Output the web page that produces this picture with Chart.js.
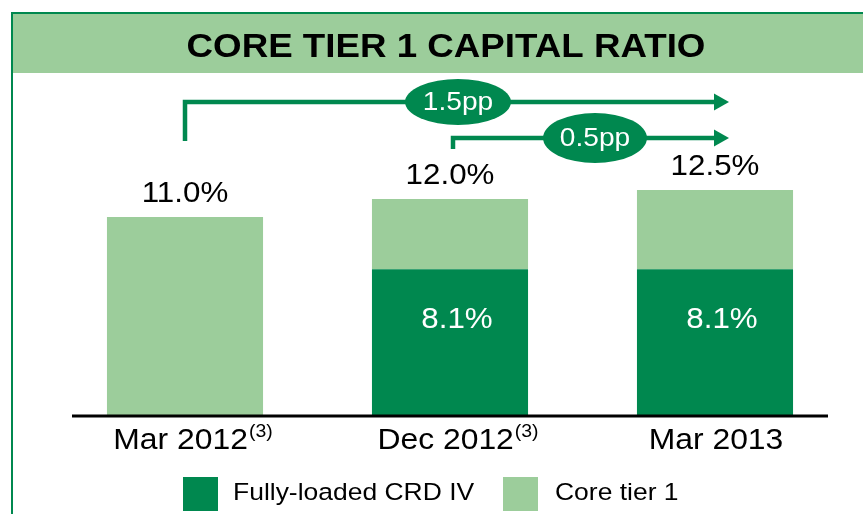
<!DOCTYPE html>
<html>
<head>
<meta charset="utf-8">
<script src="https://cdn.jsdelivr.net/npm/chart.js@4.4.1/dist/chart.umd.min.js"></script>
<style>
  html, body { margin: 0; padding: 0; background: #fff; }
  canvas { display: block; }
</style>
</head>
<body>
<canvas id="grafica" width="863" height="514"></canvas>
<script>
// datos
const categorias = ['Mar 2012', 'Dec 2012', 'Mar 2013'];
const notas = ['(3)', '(3)', ''];
const fullyLoaded = [null, 8.1, 8.1];
const coreTier1 = [11.0, 12.0, 12.5];
const etiquetasSeries = ['Fully-loaded CRD IV', 'Core tier 1'];
const cambios = [
    { texto: '1.5pp', desde: 0, hasta: 2 },
    { texto: '0.5pp', desde: 1, hasta: 2 }
];
const titulo = 'CORE TIER 1 CAPITAL RATIO';

const verdeOscuro = 'rgb(0, 136, 79)';
const verdeClaro = 'rgb(156, 205, 155)';
const fuente = "'Liberation Sans', Arial, sans-serif";
const estirar = 1.08; // el texto del original sale algo mas ancho

// parte clara = total menos la parte fully-loaded
const restoCore = coreTier1.map((v, i) => +(v - (fullyLoaded[i] || 0)).toFixed(1));

function escribir(ctx, str, x, y, align) {
    ctx.save();
    ctx.translate(x, y);
    ctx.scale(estirar, 1);
    ctx.textAlign = align;
    ctx.fillText(str, 0, 0);
    ctx.restore();
}

const fondo = {
    id: 'fondo',
    beforeDraw(chart) {
        const ctx = chart.ctx;
        ctx.save();
        ctx.fillStyle = '#fff';
        ctx.fillRect(0, 0, chart.width, chart.height);
        // cabecera
        ctx.fillStyle = verdeClaro;
        ctx.fillRect(12, 13, chart.width - 12, 60);
        ctx.fillStyle = verdeOscuro;
        ctx.fillRect(11, 12, chart.width - 11, 2);
        ctx.fillRect(11, 12, 2, chart.height - 12);
        ctx.fillStyle = '#000';
        ctx.font = 'bold 34px ' + fuente;
        ctx.textBaseline = 'alphabetic';
        escribir(ctx, titulo, 446, 57, 'center');
        ctx.restore();
    }
};

const extras = {
    id: 'extras',
    afterDraw(chart) {
        const ctx = chart.ctx;
        const x = chart.scales.x;
        const area = chart.chartArea;
        const metaClaro = chart.getDatasetMeta(1);
        const metaOscuro = chart.getDatasetMeta(0);
        ctx.save();

        // linea del eje
        ctx.fillStyle = '#000';
        ctx.fillRect(72, area.bottom - 0.5, 756, 3);

        // etiquetas del eje con superindice
        ctx.textBaseline = 'alphabetic';
        categorias.forEach((c, i) => {
            ctx.font = '29.5px ' + fuente;
            const w1 = ctx.measureText(c).width * estirar;
            ctx.font = '18px ' + fuente;
            const w2 = notas[i] ? ctx.measureText(notas[i]).width * estirar + 1 : 0;
            const x0 = x.getPixelForValue(i) - (w1 + w2) / 2 + (notas[i] ? 8 : 1);
            ctx.fillStyle = '#000';
            ctx.font = '29.5px ' + fuente;
            escribir(ctx, c, x0, 449, 'left');
            if (notas[i]) {
                ctx.font = '18px ' + fuente;
                escribir(ctx, notas[i], x0 + w1 + 1, 437, 'left');
            }
        });

        // valores totales
        ctx.font = '29px ' + fuente;
        coreTier1.forEach((v, i) => {
            const bar = metaClaro.data[i];
            ctx.fillStyle = '#000';
            escribir(ctx, v.toFixed(1) + '%', bar.x, bar.y - 15, 'center');
        });
        // valores fully-loaded
        fullyLoaded.forEach((v, i) => {
            if (v == null) return;
            const bar = metaOscuro.data[i];
            const yc = bar.y + (bar.base - bar.y) * 0.34;
            ctx.fillStyle = '#fff';
            ctx.textBaseline = 'middle';
            escribir(ctx, v.toFixed(1) + '%', bar.x + 7, yc + 1, 'center');
        });

        // flechas de cambio
        const filas = [
            { y: 102, yBase: 141, elipse: { cx: 458, rx: 53, ry: 23 } },
            { y: 138, yBase: 149, elipse: { cx: 595, rx: 52, ry: 25 } }
        ];
        cambios.forEach((c, k) => {
            const f = filas[k];
            const xa = x.getPixelForValue(c.desde) + (k === 1 ? 3 : 0);
            const xb = x.getPixelForValue(c.hasta) + 14;
            ctx.strokeStyle = verdeOscuro;
            ctx.fillStyle = verdeOscuro;
            ctx.lineWidth = 4.5;
            ctx.lineCap = 'butt';
            ctx.lineJoin = 'miter';
            ctx.beginPath();
            ctx.moveTo(xa, f.yBase);
            ctx.lineTo(xa, f.y);
            ctx.lineTo(xb - 14, f.y);
            ctx.stroke();
            ctx.beginPath();
            ctx.moveTo(xb - 15, f.y - 8.5);
            ctx.lineTo(xb, f.y);
            ctx.lineTo(xb - 15, f.y + 8.5);
            ctx.closePath();
            ctx.fill();
            ctx.beginPath();
            ctx.ellipse(f.elipse.cx, f.y, f.elipse.rx, f.elipse.ry, 0, 0, Math.PI * 2);
            ctx.fill();
            ctx.fillStyle = '#fff';
            ctx.font = '26px ' + fuente;
            ctx.textBaseline = 'middle';
            escribir(ctx, c.texto, f.elipse.cx, f.y + 1, 'center');
        });

        // leyenda
        const colores = [verdeOscuro, verdeClaro];
        const cajas = [183, 503];
        ctx.textBaseline = 'alphabetic';
        ctx.font = '24.5px ' + fuente;
        etiquetasSeries.forEach((t, i) => {
            ctx.fillStyle = colores[i];
            ctx.fillRect(cajas[i], 477, 35, 34);
            ctx.fillStyle = '#000';
            escribir(ctx, t, cajas[i] + 50 + (i === 1 ? 2 : 0), 500, 'left');
        });

        ctx.restore();
    }
};

const miGrafica = new Chart(document.getElementById('grafica').getContext('2d'), {
    type: 'bar',
    data: {
        labels: categorias,
        datasets: [{
            label: etiquetasSeries[0],
            data: fullyLoaded,
            backgroundColor: verdeOscuro,
            borderWidth: 0,
            barPercentage: 0.589,
            categoryPercentage: 1
        },
        {
            label: etiquetasSeries[1],
            data: restoCore,
            backgroundColor: verdeClaro,
            borderWidth: 0,
            barPercentage: 0.589,
            categoryPercentage: 1
        }]
    },
    options: {
        responsive: false,
        animation: false,
        devicePixelRatio: 1,
        layout: { padding: { left: 52.5, right: 15.5, top: 91, bottom: 99 } },
        plugins: {
            legend: { display: false },
            tooltip: { enabled: false },
            title: { display: false }
        },
        scales: {
            x: { display: false, stacked: true, offset: true },
            y: { display: false, stacked: true, min: 0, max: 18 }
        }
    },
    plugins: [fondo, extras]
});
</script>
</body>
</html>
